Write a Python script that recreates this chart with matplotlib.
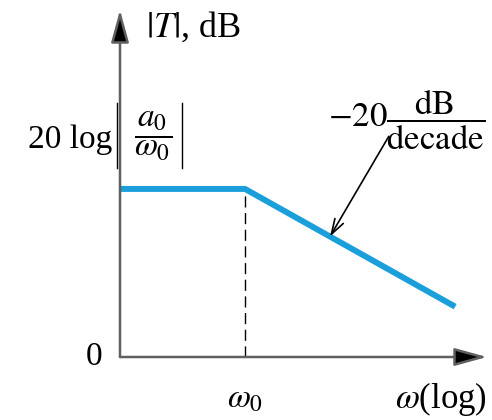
import numpy as np
import matplotlib
matplotlib.use('Agg')
import matplotlib.pyplot as plt
import matplotlib.transforms as mtransforms
from matplotlib.lines import Line2D

plt.rcParams['font.family'] = ['Liberation Serif', 'DejaVu Serif']
plt.rcParams['mathtext.fontset'] = 'stix'

# asymptotic magnitude plot: flat at 20 log|a0/w0| up to w0, then -20 dB/decade
omega = [0.1, 1.0, 48.0]
gain_db = [48.0, 48.0, 48.0 - 20 * np.log10(48.0)]
omega_0 = 1.0
flat_db = 48.0

blue = '#1b9fdb'
fs = 24


def main():
    fig = plt.figure(figsize=(4.92, 4.2), dpi=100)
    ax = fig.add_axes([120 / 492, 63 / 420, 367 / 492, 347 / 420])
    ax.set_xscale('log')
    ax.set_xlim(0.1, 10 ** 1.936)
    ax.set_ylim(0, 99.1)
    for s in ax.spines.values():
        s.set_visible(False)
    ax.set_xticks([])
    ax.set_yticks([])
    ax.minorticks_off()

    # axes with arrow heads
    axis_arrow = dict(arrowstyle='-|>,head_length=2.0,head_width=0.55',
                      lw=1.8, shrinkA=0, shrinkB=0, fc='black', ec='#606060')
    ax.annotate('', xy=(1.0, 0), xytext=(0, 0), xycoords='axes fraction',
                arrowprops=axis_arrow)
    ax.annotate('', xy=(0, 1.0), xytext=(0, 0), xycoords='axes fraction',
                arrowprops=axis_arrow)

    # corner frequency marker
    ax.plot([omega_0, omega_0], [0, flat_db], color='black', lw=1.0,
            ls=(0, (8, 4)))

    ax.plot(omega, gain_db, color=blue, lw=4.3, solid_capstyle='butt')

    # slope annotation
    ax.annotate('', xy=(10 ** 0.68, flat_db - 20 * 0.68),
                xytext=(10 ** 1.15, 63.0),
                arrowprops=dict(arrowstyle='->,head_length=1.1,head_width=0.35',
                                color='black', lw=1.2, shrinkA=0, shrinkB=0))
    ax.text(10 ** 1.29, 67.8, r'$-20\dfrac{\mathrm{dB}}{\mathrm{decade}}$',
            ha='center', va='center', fontsize=25)

    # y-axis title
    ax.text(0.07, 1.0, r'$|T|$, dB', transform=ax.transAxes, fontsize=26,
            ha='left', va='top')

    # level of the flat part: 20 log|a0/w0|
    ax.text(-0.022, 0.625, '20 log', transform=ax.transAxes, fontsize=fs,
            ha='right', va='center')
    ax.text(0.09, 0.635, r'$\dfrac{a_0}{\omega_0}$', transform=ax.transAxes,
            fontsize=fs, ha='center', va='center')
    for xb in (-0.009, 0.168):
        ax.add_line(Line2D([xb, xb], [0.545, 0.732], transform=ax.transAxes,
                           color='black', lw=1.0, clip_on=False))

    ax.text(-0.07, 0, '0', transform=ax.transAxes, fontsize=fs,
            ha='center', va='center')
    ax.text(omega_0, -12, r'$\omega_0$', fontsize=fs, ha='center', va='center')
    blend = mtransforms.blended_transform_factory(ax.transAxes, ax.transData)
    ax.text(1.0, -12, r'$\omega$(log)', transform=blend,
            fontsize=25, ha='right', va='center')

    fig.savefig('out.png', dpi=100)


if __name__ == '__main__':
    main()
